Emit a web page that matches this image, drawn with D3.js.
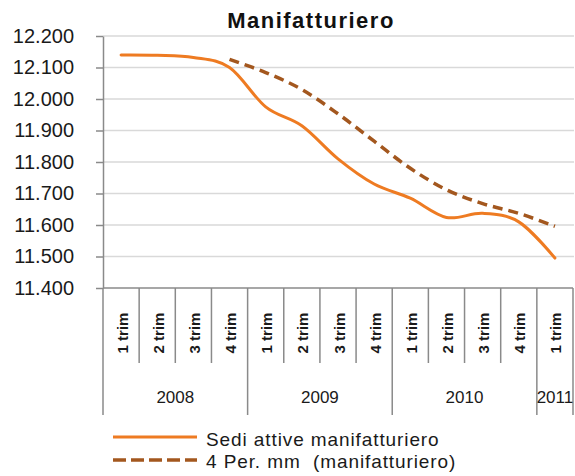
<!DOCTYPE html>
<html>
<head>
<meta charset="utf-8">
<script src="https://cdn.jsdelivr.net/npm/d3@7"></script>
<style>
  html, body { margin: 0; padding: 0; background: #fff; }
  svg { display: block; font-family: "Liberation Sans", Arial, sans-serif; }
</style>
</head>
<body>
<svg id="chart" width="575" height="476"></svg>
<script>
// Quarterly categories and their years
const quarters = ["1 trim","2 trim","3 trim","4 trim","1 trim","2 trim","3 trim","4 trim","1 trim","2 trim","3 trim","4 trim","1 trim"];
const years    = ["2008","2008","2008","2008","2009","2009","2009","2009","2010","2010","2010","2010","2011"];

// Active manufacturing firms
const sediAttive = [12140, 12139, 12132, 12100, 11975, 11915, 11810, 11730, 11685, 11624, 11637, 11610, 11495];
// 4-period moving average (starts at the 4th quarter)
const mediaMobile = [null, null, null, 12126, 12084, 12030, 11953, 11866, 11780, 11712, 11668, 11637, 11596];

const yTicks = [11400, 11500, 11600, 11700, 11800, 11900, 12000, 12100, 12200];

const seriesNames = ["Sedi attive manifatturiero", "4 Per. mm  (manifatturiero)"];
const colSolid = "#ee7b22";
const colDash  = "#a3571e";

const svg = d3.select("#chart");
const plotLeft = 103, plotRight = 573, plotTop = 36, plotBottom = 288;

const x = d3.scaleBand().domain(d3.range(quarters.length)).range([plotLeft, plotRight]).padding(0);
const y = d3.scaleLinear().domain([11400, 12200]).range([plotBottom, plotTop]);

const it = d3.formatLocale({decimal: ",", thousands: ".", grouping: [3], currency: ["", ""]});
const fmt = it.format(",.0f");

// Title
svg.append("text")
  .attr("x", 311).attr("y", 28)
  .attr("text-anchor", "middle")
  .attr("font-size", 22).attr("font-weight", "bold").attr("fill", "#111")
  .attr("letter-spacing", 1.5)
  .text("Manifatturiero");

// Horizontal gridlines
svg.append("g").selectAll("line").data(yTicks.slice(1)).join("line")
  .attr("x1", plotLeft).attr("x2", plotRight + 1)
  .attr("y1", d => y(d)).attr("y2", d => y(d))
  .attr("stroke", "#d9d9d9").attr("stroke-width", 1.5);

// Y axis
const yAxis = svg.append("g").attr("transform", `translate(${plotLeft},0)`)
  .call(d3.axisLeft(y).tickValues(yTicks).tickFormat(fmt).tickSizeInner(7).tickSizeOuter(0).tickPadding(22));
yAxis.select(".domain").attr("stroke", "#8a8a8a").attr("stroke-width", 1.5);
yAxis.selectAll(".tick line").attr("stroke", "#8a8a8a").attr("stroke-width", 1.5);
yAxis.selectAll(".tick text").attr("font-size", 20).attr("fill", "#1a1a1a")
  .attr("font-family", "'Liberation Sans', Arial, sans-serif");

// X axis baseline
svg.append("line")
  .attr("x1", plotLeft).attr("x2", plotRight).attr("y1", plotBottom).attr("y2", plotBottom)
  .attr("stroke", "#8a8a8a").attr("stroke-width", 1.5);

// Category separators: short between quarters, long at year boundaries
const bounds = d3.range(quarters.length + 1).map(i => {
  const xb = i < quarters.length ? x(i) : plotRight;
  const yearEdge = i === 0 || i === quarters.length || years[i] !== years[i - 1];
  return {xb, yearEdge};
});
svg.append("g").selectAll("line").data(bounds).join("line")
  .attr("x1", d => d.xb).attr("x2", d => d.xb)
  .attr("y1", plotBottom).attr("y2", d => d.yearEdge ? 415 : 363)
  .attr("stroke", "#8a8a8a").attr("stroke-width", 1.5);

// Quarter labels (rotated)
svg.append("g").selectAll("text").data(quarters).join("text")
  .attr("transform", (d, i) => `translate(${x(i) + x.bandwidth() / 2 + 6.5},333) rotate(-90)`)
  .attr("text-anchor", "middle")
  .attr("font-size", 15).attr("font-weight", "bold").attr("fill", "#1a1a1a")
  .text(d => d);

// Year labels centred under their quarters
const yearGroups = d3.groups(years.map((yr, i) => ({yr, i})), d => d.yr);
svg.append("g").selectAll("text").data(yearGroups).join("text")
  .attr("x", d => {
    const first = d[1][0].i, last = d[1][d[1].length - 1].i;
    return (x(first) + x(last) + x.bandwidth()) / 2;
  })
  .attr("y", 403)
  .attr("text-anchor", "middle")
  .attr("font-size", 17).attr("fill", "#1a1a1a")
  .text(d => d[0]);

// Lines
const line = d3.line()
  .defined(d => d.v != null)
  .x(d => x(d.i) + x.bandwidth() / 2)
  .y(d => y(d.v))
  .curve(d3.curveCatmullRom.alpha(0));

svg.append("path")
  .datum(mediaMobile.map((v, i) => ({v, i})).filter(d => d.v != null))
  .attr("d", line)
  .attr("fill", "none").attr("stroke", colDash).attr("stroke-width", 3.5)
  .attr("stroke-dasharray", "10,6");

svg.append("path")
  .datum(sediAttive.map((v, i) => ({v, i})))
  .attr("d", line)
  .attr("fill", "none").attr("stroke", colSolid).attr("stroke-width", 3)
  .attr("stroke-linecap", "round");

// Legend
const legend = svg.append("g");
const rows = [
  {name: seriesNames[0], color: colSolid, dash: null, w: 3, ly: 437, ty: 445.5},
  {name: seriesNames[1], color: colDash, dash: "13,5", w: 3.5, ly: 460, ty: 467.5}
];
rows.forEach(r => {
  legend.append("line")
    .attr("x1", 113).attr("x2", 197).attr("y1", r.ly).attr("y2", r.ly)
    .attr("stroke", r.color).attr("stroke-width", r.w)
    .attr("stroke-dasharray", r.dash);
  legend.append("text")
    .attr("x", 206).attr("y", r.ty)
    .attr("font-size", 19).attr("letter-spacing", 0.9).attr("fill", "#1a1a1a")
    .style("white-space", "pre")
    .text(r.name);
});
</script>
</body>
</html>
